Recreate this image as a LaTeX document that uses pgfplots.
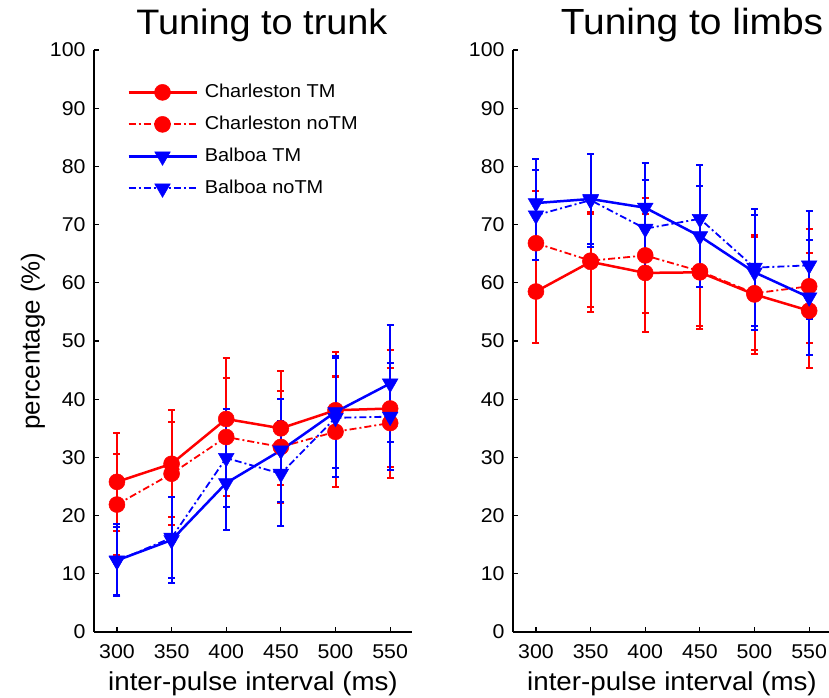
\documentclass[border=0pt]{standalone}
\usepackage{fontspec}
\setmainfont{Liberation Sans}[FakeStretch=1.07]
\newfontfamily\ylfont{Liberation Sans}
\usepackage{pgfplots}
\pgfplotsset{compat=1.18}
\definecolor{cred}{RGB}{255,0,0}
\definecolor{cblue}{RGB}{0,0,255}
\pgfplotsset{
 panel/.style={
  scale only axis, width=318bp, height=582bp,
  xmin=279, xmax=570, ymin=0, ymax=100,
  xtick={300,350,400,450,500,550}, ytick={0,10,...,100},
  axis x line*=bottom, axis y line*=left,
  axis line style={line width=1.4bp, -},
  tick align=inside, major tick length=5bp,
  tick style={line width=1.2bp, black},
  ticklabel style={font=\fontsize{20}{24}\selectfont},
  /pgf/number format/assume math mode=true,
  /pgf/number format/1000 sep={},
  xticklabel style={anchor=north, inner sep=0bp, yshift=-12bp},
  yticklabel style={xshift=-5bp},
  xlabel={inter-pulse interval (ms)},
  xlabel style={font=\fontsize{26}{30}\selectfont, at={(axis description cs:0.5,-0.0893)}, anchor=center},
  clip=false,
 },
 ctm/.style={cred, line width=2.5bp, solid, mark=*, mark size=8bp, mark options={solid, fill=cred, line width=0.5bp}},
 cno/.style={cred, line width=1.8bp, dash pattern=on 7bp off 3bp on 2bp off 3bp, mark=*, mark size=8bp, mark options={solid, fill=cred, line width=0.5bp}},
 btm/.style={cblue, line width=2.5bp, solid, mark=triangle*, mark size=9bp, mark options={solid, fill=cblue, rotate=180, line width=0.5bp}},
 bno/.style={cblue, line width=1.8bp, dash pattern=on 7bp off 3bp on 2bp off 3bp, mark=triangle*, mark size=9bp, mark options={solid, fill=cblue, rotate=180, line width=0.5bp}},
}
\begin{document}
\begin{tikzpicture}
\useasboundingbox (-94bp,-66bp) rectangle (735bp,632bp);
\begin{axis}[panel, at={(0,0)}, anchor=south west,
  ylabel={percentage (\%)},
  ylabel style={font=\ylfont\fontsize{26}{30}\selectfont, at={(axis description cs:-0.192,0.5)}, anchor=center},
  legend style={at={(0.104,0.943)}, anchor=north west, draw=none, fill=none,
    font=\fontsize{18.7}{22}\selectfont, inner sep=0bp, row sep=14bp, column sep=7bp,
    nodes={inner sep=0bp, text height=14bp, text depth=4bp}},
  legend cell align=left,
  legend image code/.code={\draw[mark repeat=2, mark phase=2] plot coordinates {(0bp,0bp) (34bp,0bp) (68bp,0bp)};},
]
\addplot[ctm, error bars/.cd, y dir=both, y explicit, error bar style={line width=2bp, solid, cred}, error mark options={rotate=90, line width=2bp, mark size=3.5bp, solid, cred}] coordinates {(300,25.8) +- (0,8.4) (350,28.9) +- (0,9.2) (400,36.6) +- (0,10.4) (450,35.0) +- (0,9.8) (500,38.1) +- (0,10.0) (550,38.4) +- (0,10.1)};
\addlegendentry{Charleston TM}
\addplot[cno, error bars/.cd, y dir=both, y explicit, error bar style={line width=2bp, solid, cred}, error mark options={rotate=90, line width=2bp, mark size=3.5bp, solid, cred}] coordinates {(300,21.9) +- (0,8.6) (350,27.2) +- (0,8.9) (400,33.5) +- (0,10.1) (450,31.8) +- (0,9.6) (500,34.4) +- (0,9.5) (550,35.9) +- (0,9.5)};
\addlegendentry{Charleston noTM}
\addplot[btm, error bars/.cd, y dir=both, y explicit, error bar style={line width=2bp, solid, cblue}, error mark options={rotate=90, line width=2bp, mark size=3.5bp, solid, cblue}] coordinates {(300,12.3) +- (0,6.2) (350,15.8) +- (0,7.4) (400,25.6) +- (0,8.0) (450,31.2) +- (0,8.8) (500,37.8) +- (0,9.7) (550,42.7) +- (0,10.0)};
\addlegendentry{Balboa TM}
\addplot[bno, error bars/.cd, y dir=both, y explicit, error bar style={line width=2bp, solid, cblue}, error mark options={rotate=90, line width=2bp, mark size=3.5bp, solid, cblue}] coordinates {(300,12.2) +- (0,5.8) (350,16.2) +- (0,7.0) (400,29.9) +- (0,8.4) (450,27.2) +- (0,9.0) (500,36.8) +- (0,10.2) (550,37.0) +- (0,9.2)};
\addlegendentry{Balboa noTM}
\node[anchor=base, font=\fontsize{35.5}{40}\selectfont] at (rel axis cs:0.528,1.0258) {Tuning to trunk};
\end{axis}
\begin{axis}[panel, at={(419bp,0)}, anchor=south west]
\addplot[ctm, error bars/.cd, y dir=both, y explicit, error bar style={line width=2bp, solid, cred}, error mark options={rotate=90, line width=2bp, mark size=3.5bp, solid, cred}] coordinates {(300,58.5) +- (0,8.8) (350,63.6) +- (0,8.6) (400,61.7) +- (0,10.2) (450,61.8) +- (0,9.7) (500,58.0) +- (0,10.2) (550,55.2) +- (0,9.9)};
\addplot[cno, error bars/.cd, y dir=both, y explicit, error bar style={line width=2bp, solid, cred}, error mark options={rotate=90, line width=2bp, mark size=3.5bp, solid, cred}] coordinates {(300,66.8) +- (0,8.9) (350,63.8) +- (0,8.0) (400,64.7) +- (0,9.9) (450,62.0) +- (0,9.5) (500,58.2) +- (0,9.7) (550,59.4) +- (0,9.8)};
\addplot[btm, error bars/.cd, y dir=both, y explicit, error bar style={line width=2bp, solid, cblue}, error mark options={rotate=90, line width=2bp, mark size=3.5bp, solid, cblue}] coordinates {(300,73.7) +- (0,7.6) (350,74.4) +- (0,7.7) (400,72.9) +- (0,7.7) (450,68.0) +- (0,8.7) (500,61.8) +- (0,9.9) (550,57.5) +- (0,9.9)};
\addplot[bno, error bars/.cd, y dir=both, y explicit, error bar style={line width=2bp, solid, cblue}, error mark options={rotate=90, line width=2bp, mark size=3.5bp, solid, cblue}] coordinates {(300,71.6) +- (0,7.7) (350,74.2) +- (0,8.0) (400,69.3) +- (0,8.3) (450,71.0) +- (0,9.2) (500,62.6) +- (0,10.0) (550,63.0) +- (0,9.3)};
\node[anchor=base, font=\fontsize{36.5}{40}\selectfont] at (rel axis cs:0.563,1.0258) {Tuning to limbs};
\end{axis}
\end{tikzpicture}
\end{document}
